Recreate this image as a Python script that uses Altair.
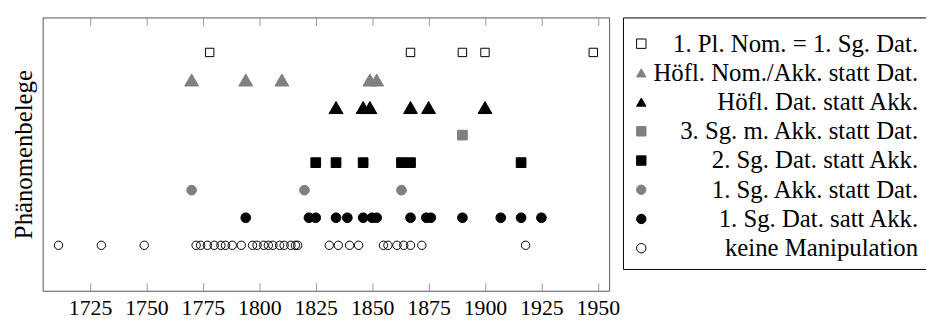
import altair as alt
import pandas as pd

# ---- data (years) ----
series_names = [
    "1. Pl. Nom. = 1. Sg. Dat.",
    "Höfl. Nom./Akk. statt Dat.",
    "Höfl. Dat. statt Akk.",
    "3. Sg. m. Akk. statt Dat.",
    "2. Sg. Dat. statt Akk.",
    "1. Sg. Akk. statt Dat.",
    "1. Sg. Dat. satt Akk.",
    "keine Manipulation",
]
series_rows = [8, 7, 6, 5, 4, 3, 2, 1]

pl_nom_years = [1778, 1867, 1890, 1900, 1948]
hoefl_nom_akk_years = [1770, 1794, 1810, 1849, 1852]
hoefl_dat_years = [1834, 1846, 1849, 1867, 1875, 1900]
sg3_akk_years = [1890]
sg2_dat_years = [1825, 1834, 1846, 1863, 1867, 1916]
sg1_akk_years = [1770, 1820, 1863]
sg1_dat_years = [1794, 1822, 1825, 1834, 1839, 1846, 1850, 1852, 1867,
                 1874, 1876, 1890, 1907, 1916, 1925]
keine_years = [1711, 1730, 1749,
               1772, 1774, 1777, 1780, 1783, 1785, 1788, 1792,
               1797, 1799, 1802, 1804, 1806, 1809, 1811, 1814, 1816, 1817,
               1831, 1835, 1840, 1844,
               1855, 1857, 1861, 1864, 1867, 1872, 1918]

x_ticks = [1725, 1750, 1775, 1800, 1825, 1850, 1875, 1900, 1925, 1950]

all_years = [pl_nom_years, hoefl_nom_akk_years, hoefl_dat_years, sg3_akk_years,
             sg2_dat_years, sg1_akk_years, sg1_dat_years, keine_years]

rows = []
for name, lvl, ys in zip(series_names, series_rows, all_years):
    for y in ys:
        rows.append({"Jahr": y, "Reihe": lvl, "Serie": name})
df = pd.DataFrame(rows)

GRAY = "#808080"
shapes = ["square", "triangle-up", "triangle-up", "square", "square", "circle", "circle", "circle"]
fills = ["transparent", GRAY, "black", GRAY, "black", GRAY, "black", "transparent"]
strokes = ["black", GRAY, "black", GRAY, "black", GRAY, "black", "black"]
triangle_series = [series_names[1], series_names[2]]
open_series = [series_names[0], series_names[7]]

FONT = "Liberation Serif"
legend = alt.Legend(title=" ", titleFontSize=2, titlePadding=4)

size_expr = (
    "indexof(" + str(triangle_series) + ", datum.Serie) >= 0 ? 196 : "
    "(indexof(" + str(open_series) + ", datum.Serie) >= 0 ? 72 : 96)"
)

x_scale = alt.Scale(domain=[1704, 1955], nice=False, zero=False)
y_scale = alt.Scale(domain=[-0.65, 9.27], nice=False, zero=False)
y_axis = alt.Axis(title="Phänomenbelege", labels=False, ticks=False,
                  domain=False, grid=False, titleFont=FONT,
                  titleFontSize=25, titleFontWeight="normal",
                  titleColor="black", titlePadding=6)

points = alt.Chart(df).transform_calculate(
    sz=size_expr
).mark_point(filled=False, strokeWidth=1, opacity=1).encode(
    x=alt.X("Jahr:Q", scale=x_scale,
            axis=alt.Axis(values=x_ticks, format="d", title=None, grid=False,
                          orient="bottom",
                          domain=False, offset=-8, tickSize=8, tickColor="#999999",
                          labelPadding=7, labelFont=FONT, labelFontSize=22,
                          labelColor="black", labelFlush=False)),
    y=alt.Y("Reihe:Q", scale=y_scale, axis=y_axis),
    shape=alt.Shape("Serie:N", scale=alt.Scale(domain=series_names, range=shapes), legend=legend),
    fill=alt.Fill("Serie:N", scale=alt.Scale(domain=series_names, range=fills), legend=legend),
    stroke=alt.Stroke("Serie:N", scale=alt.Scale(domain=series_names, range=strokes), legend=legend),
    size=alt.Size("sz:Q", scale=None),
)

# mirrored inward ticks on the top edge (pgfplots style)
top_ticks = alt.Chart(df).mark_point(opacity=0).encode(
    x=alt.X("Jahr:Q", scale=x_scale,
            axis=alt.Axis(values=x_ticks, title=None, grid=False, orient="top",
                          domain=False, labels=False, offset=-8, tickSize=8,
                          tickColor="#999999")),
    y=alt.Y("Reihe:Q", scale=y_scale, axis=y_axis),
)

chart = alt.layer(points, top_ticks).properties(
    width=572, height=276,
    autosize=alt.AutoSizeParams(type="none"),
    padding={"left": 35, "top": 8, "right": 320, "bottom": 30},
).configure_view(
    stroke="#555555", strokeWidth=1
).configure_legend(
    orient="none", legendX=586, legendY=0,
    strokeColor="black", fillColor="white", padding=8,
    labelFont=FONT, labelFontSize=25, labelColor="black",
    labelAlign="right", labelLimit=400, labelOffset=267,
    symbolOffset=-2,
    rowPadding=3.5, columnPadding=0, symbolSize=90, symbolStrokeWidth=1,
)

chart.save("out.html", embed_options={"renderer": "svg", "actions": False})
